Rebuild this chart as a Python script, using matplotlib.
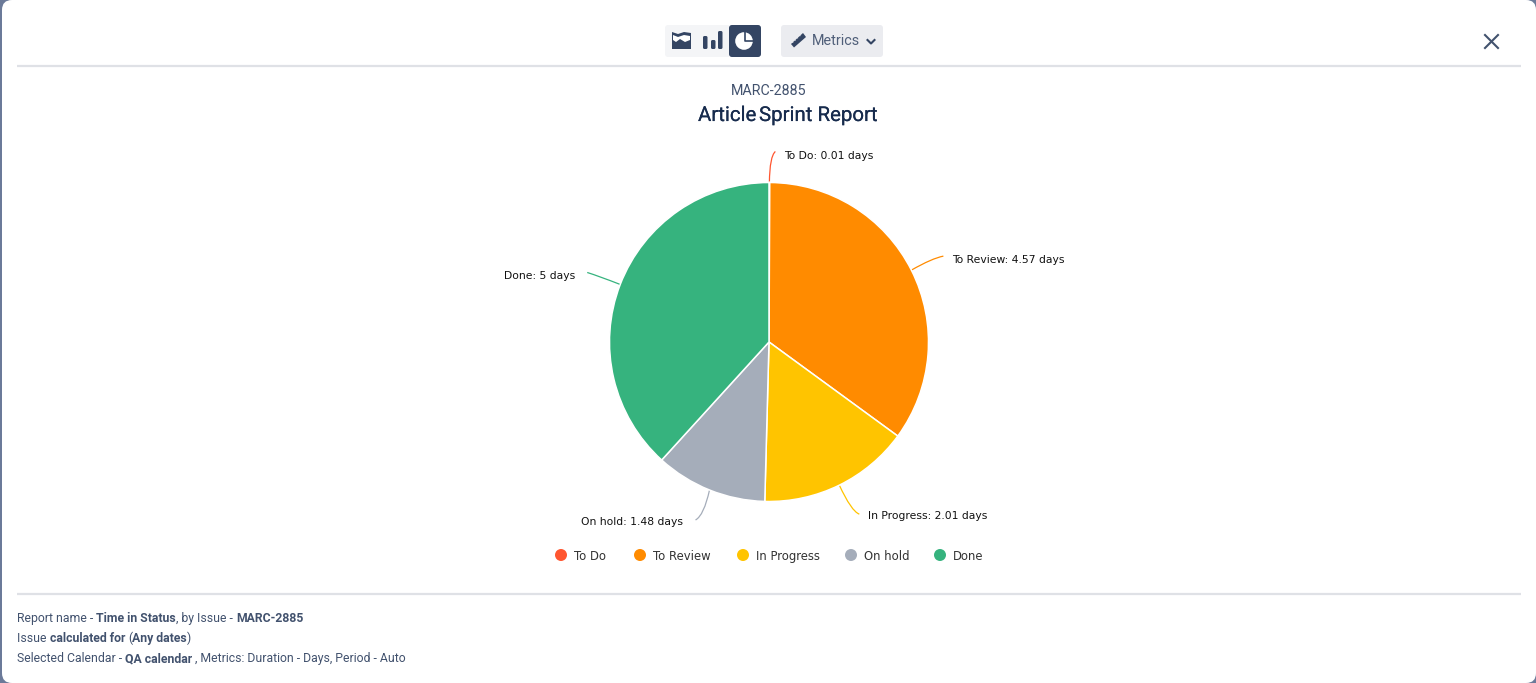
import numpy as np
import matplotlib
matplotlib.use('Agg')
import matplotlib.pyplot as plt
import matplotlib.patheffects as pe
from matplotlib.patches import Circle, FancyBboxPatch, PathPatch, Polygon
from matplotlib.path import Path

# Chart data
statuses = ['To Do', 'To Review', 'In Progress', 'On hold', 'Done']
days = [0.01, 4.57, 2.01, 1.48, 5]
day_labels = ['0.01', '4.57', '2.01', '1.48', '5']
colors = ['#FF5630', '#FF8B00', '#FFC400', '#A5ADBA', '#36B37E']

W, H = 1536, 683
CX, CY, R = 769, 342, 159.5
TEXT = '#42526E'
DARK = '#172B4D'
RULE = '#DFE1E6'
ICON = '#344563'

# Leader end offset from the slice edge, bend of the leader, label offset from the leader end
leader_offsets = [(6, -31), (32, -14), (20, 29), (-14, 30), (-33, -12)]
leader_bends = [(0.05, 0.85), (0.65, 0.85), (0.6, 0.9), (0.4, 0.85), (0.65, 0.7)]
label_gaps = [(9, 7), (9, 7), (9, 5), (-13, 5), (-12, 7)]

plt.rcParams['font.family'] = ['Roboto', 'DejaVu Sans']

fig = plt.figure(figsize=(W / 100, H / 100), dpi=100, facecolor='#6B7A99')

# Pixel coordinate layer for the dialog, texts and icons
bg = fig.add_axes([0, 0, 1, 1])
bg.set_xlim(0, W)
bg.set_ylim(H, 0)
bg.axis('off')
bg.add_patch(FancyBboxPatch((12, 10), W - 22, H - 20, boxstyle='round,pad=10,rounding_size=10',
                            fc='white', ec='none'))


def runs(x, y, parts, size=8.82):
    # Write regular and bold pieces one after the other
    renderer = fig.canvas.get_renderer()
    for s, weight in parts:
        t = bg.text(x, y, s, fontsize=size, color=TEXT, weight=weight, va='baseline', ha='left')
        x += t.get_window_extent(renderer).width


# Header and footer rules
bg.plot([17, 1521], [66, 66], color=RULE, lw=1.6, solid_capstyle='butt')
bg.plot([17, 1521], [594, 594], color=RULE, lw=1.6, solid_capstyle='butt')

# Chart type switch
bg.add_patch(FancyBboxPatch((667, 27), 92, 28, boxstyle='round,pad=2,rounding_size=3', fc='#F4F5F7', ec='none'))
bg.add_patch(FancyBboxPatch((731, 27), 28, 28, boxstyle='round,pad=2,rounding_size=3', fc=ICON, ec='none'))
bg.add_patch(Polygon([(672, 32), (678, 34), (684, 32), (691, 33), (691, 49), (672, 49)], fc=ICON, ec='none'))
bg.add_patch(Polygon([(673, 35), (678, 37), (684, 35), (690, 36), (690, 40), (685, 42), (680, 39),
                      (676, 42), (673, 40)], fc='white', ec='none'))
for bx, by in [(704, 37), (712, 41), (719, 32)]:
    bg.add_patch(FancyBboxPatch((bx, by), 2.5, 48 - by, boxstyle='round,pad=1,rounding_size=1.5', fc=ICON, ec='none'))
bg.add_patch(Circle((744, 41), 8.8, fc='white', ec='none'))
bg.plot([744.5, 744.5, 754], [31, 40.5, 40.5], color=ICON, lw=1.2)

# Metrics button
bg.add_patch(FancyBboxPatch((783, 27), 98, 28, boxstyle='round,pad=2,rounding_size=3', fc='#EBECF0', ec='none'))
bg.add_patch(Polygon([(791, 44), (803, 33), (806, 37), (794, 47.5)], fc=ICON, ec='none'))
for t in np.arange(0.15, 0.95, 0.2):
    bg.plot([791 + 12 * t, 790 + 12 * t], [44 - 11 * t, 43 - 11 * t], color='#EBECF0', lw=0.7)
bg.text(811.5, 41, 'Metrics', fontsize=10.4, color='#505F79', va='center', ha='left')
bg.plot([867.5, 871, 874.5], [40, 43.5, 40], color=ICON, lw=1.5)

# Close button
bg.plot([1485, 1498], [35, 48], color=TEXT, lw=1.5)
bg.plot([1485, 1498], [48, 35], color=TEXT, lw=1.5)

# Titles
bg.text(769, 91, 'MARC-2885', fontsize=10.3, color=TEXT, ha='center', va='center')
medium = [pe.withStroke(linewidth=0.1, foreground=DARK)]
bg.text(698, 115.5, 'Article', fontsize=14.7, color=DARK, ha='left', va='center', path_effects=medium)
bg.text(759, 115.5, 'Sprint Report', fontsize=14.7, color=DARK, ha='left', va='center', path_effects=medium)

# Pie
ax = fig.add_axes([(CX - R) / W, 1 - (CY + R) / H, 2 * R / W, 2 * R / H])
ax.pie(days, colors=colors, startangle=90, counterclock=False, radius=1,
       wedgeprops={'edgecolor': 'white', 'linewidth': 1.1})
ax.set_xlim(-1, 1)
ax.set_ylim(-1, 1)

# Data labels with curved leaders, anchored on the middle of each slice
edges = np.cumsum([0] + days) / sum(days) * 2 * np.pi
for i, status in enumerate(statuses):
    mid = (edges[i] + edges[i + 1]) / 2
    x0 = CX + R * np.sin(mid)
    y0 = CY - R * np.cos(mid)
    dx, dy = leader_offsets[i]
    x1, y1 = x0 + dx, y0 + dy
    ctrl = (x0 + dx * leader_bends[i][0], y0 + dy * leader_bends[i][1])
    path = Path([(x0, y0), ctrl, (x1, y1)], [Path.MOVETO, Path.CURVE3, Path.CURVE3])
    bg.add_patch(PathPatch(path, fc='none', ec=colors[i], lw=0.9))
    gx, gy = label_gaps[i]
    bg.text(x1 + gx, y1 + gy, f'{status}: {day_labels[i]} days', fontsize=7.75, family='DejaVu Sans',
            color='#111111', ha='left' if gx > 0 else 'right', va='baseline')

# Legend
legend_x = [561, 640, 743, 851, 940]
for x, status, color in zip(legend_x, statuses, colors):
    bg.add_patch(Circle((x, 555), 6, fc=color, ec='none'))
    bg.text(x + 13, 560, status, fontsize=8.4, family='DejaVu Sans', color='#333333', ha='left', va='baseline')

# Footer
fig.canvas.draw()
runs(17, 622, [('Report name - ', 'normal'), ('Time in Status', 'bold'), (', by Issue - ', 'normal'), ('MARC-2885', 'bold')])
runs(17, 642, [('Issue ', 'normal'), ('calculated for ', 'bold'), ('(', 'normal'), ('Any dates', 'bold'), (')', 'normal')])
runs(17, 662, [('Selected Calendar - ', 'normal'), ('QA calendar ', 'bold'), (', Metrics: Duration - Days, Period - Auto', 'normal')])

fig.savefig('out.png', dpi=100, facecolor=fig.get_facecolor())
